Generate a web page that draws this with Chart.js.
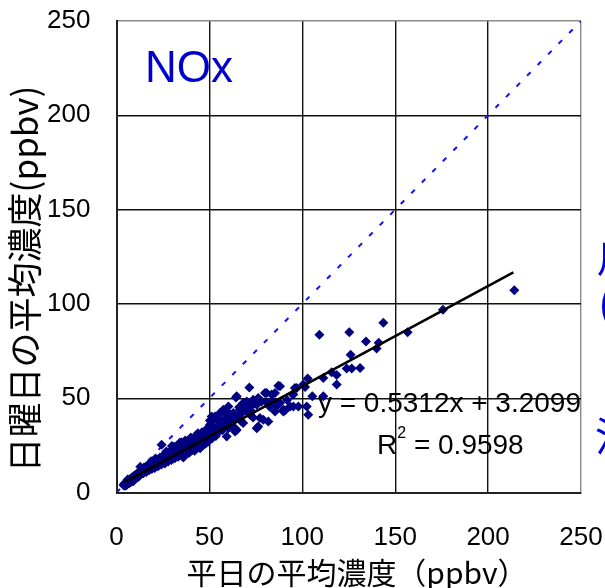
<!DOCTYPE html>
<html><head><meta charset="utf-8">
<script src="https://cdn.jsdelivr.net/npm/chart.js@4.4.0/dist/chart.umd.min.js"></script>
<style>html,body{margin:0;padding:0;background:#fff}#wrap{width:605px;height:588px;position:relative}</style>
</head><body><div id="wrap"><canvas id="c"></canvas></div>
<script>
// Weekday mean (x) vs Sunday mean (y), ppbv
const weekdayX = [
3.8,4.2,4.5,4.8,5.0,5.3,5.6,5.9,6.2,6.5,6.8,7.0,7.3,7.6,7.9,8.2,8.5,8.8,9.1,9.4,9.7,10.0,10.4,10.8,11.2,11.6,12.0,12.4,12.8,13.2,13.6,14.0,14.5,15.0,15.5,16.0,16.5,17.0,17.5,18.0,18.5,19.0,19.5,20.0,20.6,21.2,21.8,22.4,23.0,23.6,24.3,24.2,24.8,25.4,26.0,26.6,27.2,27.8,28.4,29.0,29.6,30.2,30.8,31.4,32.0,32.6,33.2,33.8,34.4,35.0,35.6,36.2,36.8,37.4,38.0,38.6,39.2,39.8,40.4,41.0,41.6,42.2,42.8,43.4,44.0,44.6,45.2,45.8,46.4,47.0,47.6,48.2,48.8,49.4,50.0,
4.0,5.5,7.2,8.9,10.6,12.1,13.9,15.3,16.8,18.3,19.8,21.4,22.9,24.5,26.2,27.6,29.2,30.6,32.2,33.6,35.2,36.6,38.2,39.6,41.2,42.6,44.2,45.6,47.2,48.6,26.8,31.0,34.0,37.0,40.0,43.0,46.0,49.0,36.0,39.0,42.0,45.0,48.0,50.6,51.5,52.8,53.5,54.2,55.0,56.3,57.0,58.2,59.0,61.0,61.8,62.5,65.5,66.8,67.4,69.0,70.5,72.8,73.5,74.2,82.5,84.0,86.5,91.8,
50.3,50.3,51.2,52.1,53.0,54.8,55.7,57.5,57.5,60.2,60.2,62.9,62.9,63.8,64.3,64.7,64.7,66.5,68.2,68.2,70.1,71.5,71.9,71.9,73.6,75.5,75.5,76.3,76.3,77.2,78.1,79.0,79.9,80.8,80.8,81.7,63.8,59.3,83.5,85.3,85.3,87.1,88.0,88.0,89.8,89.8,90.7,93.4,94.8,95.2,95.2,96.0,97.0,97.9,100.5,101.5,102.4,102.9,103.2,105.4,109.2,111.3,111.3,115.8,118.5,118.5,123.9,126.0,126.6,125.3,131.1,134.3,140.0,141.1,143.6,156.7,175.7,214.1,
6.0,9.0,11.0,14.8,17.2,19.2,22.0,25.0,28.0,30.0,33.0,35.8,38.8,41.8,44.8,47.8,14.2,18.8,23.3,27.0,31.8,36.4,40.8,45.4,49.8,21.0,25.8,29.8,34.8,39.4,43.8,48.4,52.0,55.4,58.6,60.8,66.0,70.0
];
const sundayY = [
3.9,4.6,3.6,5.2,4.4,3.9,5.8,4.7,5.3,6.4,4.9,5.8,7.1,5.5,6.6,7.8,6.2,7.3,8.6,6.9,8.0,9.2,7.4,8.7,10.1,8.2,9.6,11.0,13.6,9.9,11.4,12.3,10.2,11.8,13.4,10.9,12.6,14.7,11.8,13.5,15.6,12.4,14.2,16.8,13.0,15.1,17.4,13.9,16.0,18.3,25.3,14.8,17.1,19.5,15.4,18.0,20.6,16.4,19.0,21.8,17.2,19.9,22.6,18.1,20.7,23.4,18.9,21.6,24.6,19.6,22.5,25.3,20.4,23.2,26.1,21.3,24.0,27.0,22.3,24.9,27.8,23.0,25.8,28.6,23.9,26.7,29.4,24.8,27.5,30.3,25.9,28.4,31.2,27.0,29.6,
4.1,5.0,6.2,8.0,9.6,8.6,10.8,12.5,13.6,14.4,15.5,16.2,17.3,16.2,17.0,18.6,19.6,21.0,22.0,23.0,21.4,23.8,24.6,25.6,26.3,27.2,25.4,27.8,28.8,29.7,21.8,24.2,26.4,27.6,29.2,30.5,32.0,33.2,18.6,21.0,22.2,23.4,26.0,31.5,28.8,32.4,30.0,34.8,32.2,36.5,33.0,35.4,38.0,36.2,40.6,38.5,40.2,38.0,42.0,44.5,42.6,43.0,39.8,47.2,45.5,48.5,46.0,49.0,
38.2,35.9,40.3,38.6,40.3,39.5,42.1,43.0,43.9,45.6,34.1,42.1,37.7,34.1,50.4,33.2,51.0,43.9,36.8,47.4,48.3,55.7,41.2,45.6,49.2,46.5,34.1,35.0,50.1,39.5,48.3,38.6,52.8,47.8,52.8,37.7,32.3,29.7,51.9,52.8,43.0,56.6,56.3,47.4,43.9,43.0,43.5,45.6,51.9,45.6,51.9,55.4,55.4,45.6,57.2,56.0,45.6,60.4,41.2,51.0,83.6,51.0,60.7,63.7,62.3,57.2,65.7,73.1,65.7,85.0,66.0,80.0,76.3,79.4,90.0,85.0,96.9,107.2,
6.9,6.0,9.9,13.2,14.2,16.5,16.4,19.2,20.0,22.9,23.1,24.0,25.3,28.4,27.2,29.0,12.0,15.0,18.4,19.9,23.6,21.8,25.8,27.0,32.0,18.0,20.3,24.6,26.6,28.1,31.4,33.6,35.0,37.2,39.4,41.8,45.2,44.0
];
const diagX = [0, 250];
const diagY = [0, 250];
const trendX = [4.6, 213.6];
const trendY = [5.65, 116.7];
const tickValues = [0, 50, 100, 150, 200, 250];
const xTitle = '平日の平均濃度（ppbv）';
const yTitle = '日曜日の平均濃度';
const yUnit = '(ppbv)';
const panelLabel = 'NOx';
const eqText = 'y = 0.5312x + 3.2099';
const r2Value = ' = 0.9598';
const sideGlyphs = ['川', '(', '注'];

const pts = weekdayX.map((x, i) => ({x: x, y: sundayY[i]}));
const toXY = (xs, ys) => xs.map((x, i) => ({x: x, y: ys[i]}));

const textPlugin = {
  id: 'texts',
  afterDraw(chart) {
    const ctx = chart.ctx;
    ctx.save();
    ctx.fillStyle = '#0000CC';
    ctx.font = '44px "Liberation Sans", Arial, sans-serif';
    ctx.textAlign = 'left'; ctx.textBaseline = 'alphabetic';
    ctx.fillText(panelLabel, 145, 82);
    ctx.fillStyle = '#000';
    ctx.font = '28px "Liberation Sans", Arial, sans-serif';
    ctx.textAlign = 'right';
    ctx.fillText(eqText, 581, 412);
    ctx.textAlign = 'left';
    ctx.fillText('R', 377, 454);
    const rw = ctx.measureText('R').width;
    ctx.font = '16px "Liberation Sans", Arial, sans-serif';
    ctx.fillText('2', 377 + rw, 438);
    const w2 = ctx.measureText('2').width;
    ctx.font = '28px "Liberation Sans", Arial, sans-serif';
    ctx.fillText(r2Value, 377 + rw + w2, 454);
    ctx.font = '30px "Noto Sans CJK JP", sans-serif';
    ctx.textAlign = 'center'; ctx.textBaseline = 'middle';
    ctx.fillText(xTitle, 357, 573);
    ctx.save();
    ctx.translate(25, 279);
    ctx.rotate(-Math.PI / 2);
    ctx.font = '35px "Noto Sans CJK JP", sans-serif';
    const wa = ctx.measureText(yTitle).width;
    const wb = ctx.measureText(yUnit).width;
    const start = -(wa + wb) / 2;
    ctx.textAlign = 'left';
    ctx.fillText(yTitle, start, 0);
    ctx.fillText(yUnit, start + wa, 0);
    ctx.restore();
    ctx.fillStyle = '#0000DD';
    ctx.textAlign = 'left'; ctx.textBaseline = 'middle';
    ctx.font = '38px "Noto Sans CJK JP", sans-serif';
    ctx.fillText(sideGlyphs[0], 597, 258);
    ctx.font = '48px "Liberation Sans", sans-serif';
    ctx.fillText(sideGlyphs[1], 599, 306);
    ctx.font = '40px "Noto Sans CJK JP", sans-serif';
    ctx.fillText(sideGlyphs[2], 595, 436);
    ctx.restore();
  }
};

const gridColor = (c) => {
  const v = c.tick ? c.tick.value : 0;
  if (v === 250) return '#8a8a8a';
  return '#111';
};

new Chart(document.getElementById('c'), {
  type: 'scatter',
  data: {
    datasets: [
      {
        type: 'line', data: toXY(trendX, trendY), borderColor: '#000', borderWidth: 2.6,
        pointRadius: 0, fill: false, order: 0, tension: 0
      },
      {
        data: pts, pointStyle: 'rectRot', pointRadius: 5, pointHoverRadius: 5,
        backgroundColor: '#000080', borderWidth: 0, order: 1
      },
      {
        type: 'line', data: toXY(diagX, diagY), borderColor: '#1010FF', borderWidth: 2,
        borderDash: [5, 10], pointRadius: 0, fill: false, order: 2
      }
    ]
  },
  options: {
    responsive: true, maintainAspectRatio: false, animation: false,
    layout: {padding: {top: 21, right: 24, left: 0, bottom: 0}},
    plugins: {legend: {display: false}, tooltip: {enabled: false}},
    scales: {
      x: {
        type: 'linear', min: 0, max: 250,
        afterBuildTicks: (s) => { s.ticks = tickValues.map(v => ({value: v})); },
        afterFit: (s) => { s.height = 95.5; s.paddingLeft = 0; s.paddingRight = 0; },
        grid: {color: gridColor, lineWidth: 1.4, drawTicks: false},
        border: {color: '#222', width: 2},
        ticks: {padding: 30, color: '#000', font: {family: '"Liberation Sans", Arial, sans-serif', size: 26}, maxRotation: 0}
      },
      y: {
        type: 'linear', min: 0, max: 250,
        afterBuildTicks: (s) => { s.ticks = tickValues.map(v => ({value: v})); },
        afterFit: (s) => { s.width = 116.5; s.paddingTop = 0; s.paddingBottom = 0; },
        grid: {color: gridColor, lineWidth: 1.4, drawTicks: false},
        border: {color: '#222', width: 2},
        ticks: {padding: 26, color: '#000', font: {family: '"Liberation Sans", Arial, sans-serif', size: 26}}
      }
    }
  },
  plugins: [textPlugin]
});
</script>
</body></html>
